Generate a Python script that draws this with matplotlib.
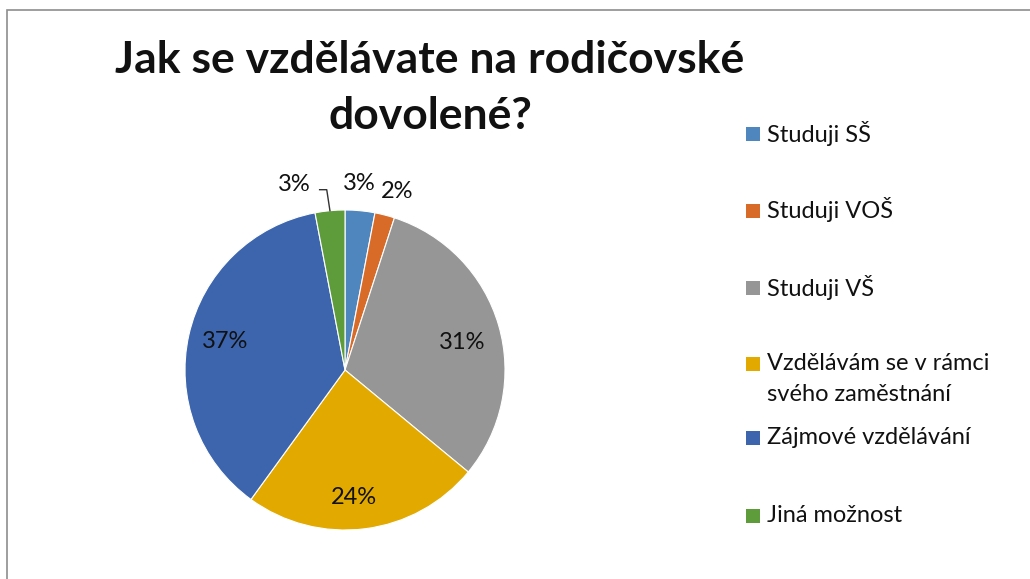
import numpy as np
import matplotlib
matplotlib.use("Agg")
import matplotlib.pyplot as plt
from matplotlib.patches import Rectangle

plt.rcParams['font.family'] = ['Lato', 'DejaVu Sans']

# data
labels = ['Studuji SŠ', 'Studuji VOŠ', 'Studuji VŠ',
          'Vzdělávám se v rámci\nsvého zaměstnání', 'Zájmové vzdělávání', 'Jiná možnost']
values = [3, 2, 31, 24, 37, 3]
pct_labels = ['3%', '2%', '31%', '24%', '37%', '3%']
colors = ['#4F86BE', '#D86B28', '#969696', '#E2AA00', '#3C65AD', '#5E9B3B']

# label placement (radius, angle shift in degrees)
label_r = [1.17, 1.16, 0.75, 0.80, 0.77, 1.20]
label_shift = [1, -2, -3, -3, -1, 10]

fig = plt.figure(figsize=(10.30, 5.79), dpi=100)

# chart border (cropped at right and bottom)
fig.patches.append(Rectangle((7 / 1030, -0.1), 1.2, 1 - 10 / 579 + 0.1,
                             transform=fig.transFigure, fill=False,
                             edgecolor='#8e8e8e', linewidth=1.2))

ax = fig.add_axes([(345 - 200) / 1030, (579 - 370 - 200) / 579, 400 / 1030, 400 / 579])
wedges, _ = ax.pie(values, colors=colors, startangle=90, counterclock=False,
                   radius=1.0, wedgeprops=dict(linewidth=0.8, edgecolor='white'))
ax.set_xlim(-1.25, 1.25)
ax.set_ylim(-1.25, 1.25)
ax.set_aspect('equal')
ax.axis('off')

for i, w in enumerate(wedges):
    mid = (w.theta1 + w.theta2) / 2 + label_shift[i]
    x = label_r[i] * np.cos(np.radians(mid))
    y = label_r[i] * np.sin(np.radians(mid))
    ax.text(x, y, pct_labels[i], ha='center', va='center', fontsize=17, color='#111111')
    if i == len(wedges) - 1:
        # leader line for the last small slice
        mid0 = (w.theta1 + w.theta2) / 2
        ex = 1.0 * np.cos(np.radians(mid0))
        ey = 1.0 * np.sin(np.radians(mid0))
        ax.plot([x + 0.16, ex - 0.02, ex], [y - 0.03, y - 0.03, ey],
                color='#333333', linewidth=1, clip_on=False)

fig.text(430 / 1030, 1 - 88 / 579, 'Jak se vzdělávate na rodičovské\ndovolené?',
         ha='center', va='center', fontsize=32, fontweight='bold',
         linespacing=1.5, color='#111111')

# legend (y of first line of each entry, in pixels from top)
leg_y = [133, 210, 287, 363, 437, 515]
for i in range(len(labels)):
    yy = 1 - leg_y[i] / 579
    n_extra = labels[i].count('\n')
    fig.patches.append(Rectangle((746 / 1030, yy - 7.5 / 579), 14 / 1030, 14 / 579,
                                 transform=fig.transFigure, facecolor=colors[i],
                                 edgecolor='none'))
    fig.text(767 / 1030, yy - n_extra * 16 / 579, labels[i], ha='left', va='center',
             fontsize=17, linespacing=1.55, color='#111111')

fig.savefig('out.png', dpi=100)
